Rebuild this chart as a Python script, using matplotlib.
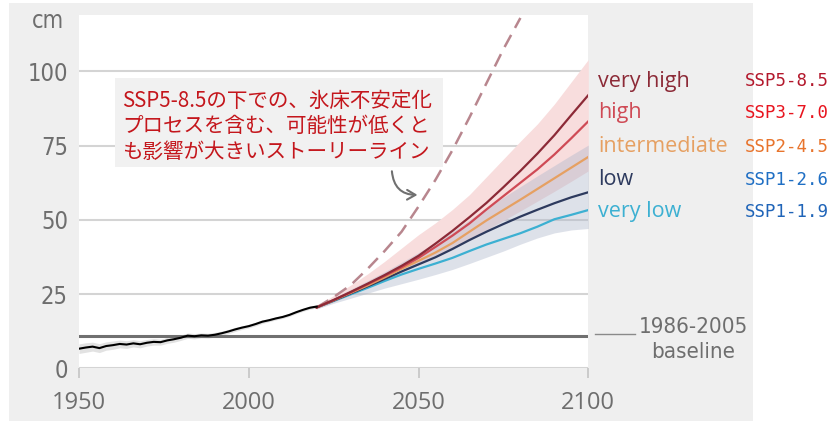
import matplotlib
matplotlib.use("Agg")
import matplotlib.pyplot as plt
from matplotlib.patches import Rectangle
from matplotlib import font_manager

W, H = 830, 423

# observed sea level (cm)
hist_years = [1950, 1952, 1954, 1956, 1958, 1960, 1962, 1964, 1966, 1968, 1970, 1972,
              1974, 1976, 1978, 1980, 1982, 1984, 1986, 1988, 1990, 1992, 1994, 1996,
              1998, 2000, 2002, 2004, 2006, 2008, 2010, 2012, 2014, 2016, 2018, 2020]
hist_vals = [6.6, 7.0, 7.3, 6.8, 7.5, 7.8, 8.2, 8.0, 8.4, 8.1, 8.6, 8.9,
             8.8, 9.4, 9.8, 10.3, 11.0, 10.8, 11.1, 11.0, 11.3, 11.8, 12.4, 13.1,
             13.7, 14.2, 14.9, 15.7, 16.2, 16.8, 17.3, 18.0, 18.9, 19.7, 20.4, 20.8]
hist_err = [1.6, 1.6, 1.5, 1.5, 1.4, 1.4, 1.3, 1.3, 1.2, 1.2, 1.1, 1.1,
            1.0, 1.0, 1.0, 0.9, 0.9, 0.9, 0.8, 0.8, 0.8, 0.7, 0.7, 0.7,
            0.6, 0.6, 0.6, 0.6, 0.5, 0.5, 0.5, 0.5, 0.5, 0.5, 0.5, 0.5]

# projections, 2020-2100
proj_years = [2020, 2025, 2030, 2035, 2040, 2045, 2050, 2055, 2060,
              2065, 2070, 2075, 2080, 2085, 2090, 2095, 2100]
very_high = [20.5, 23.0, 25.7, 28.5, 31.4, 34.5, 37.9, 42.0, 46.3, 50.9, 55.7, 61.0, 66.5, 72.3, 78.5, 85.3, 92.0]
high = [20.5, 23.0, 25.6, 28.3, 31.1, 34.0, 37.2, 40.9, 44.7, 48.8, 53.5, 58.0, 62.5, 67.0, 72.0, 77.5, 83.2]
intermediate = [20.5, 22.9, 25.4, 27.9, 30.6, 33.5, 36.2, 39.0, 42.2, 46.0, 49.8, 53.3, 56.8, 60.4, 64.0, 67.6, 71.2]
low = [20.5, 22.8, 25.2, 27.6, 30.1, 32.6, 35.0, 37.4, 40.2, 43.2, 46.0, 48.6, 51.1, 53.4, 55.6, 57.6, 59.3]
very_low = [20.5, 22.7, 24.9, 27.1, 29.4, 31.6, 33.5, 35.3, 37.2, 39.5, 41.7, 43.6, 45.5, 47.7, 50.2, 51.7, 53.3]

# likely ranges
vh_lo = [20.0, 22.3, 24.8, 27.3, 29.8, 32.3, 35.0, 37.8, 40.6, 43.6, 46.6, 49.8, 53.0, 56.3, 59.6, 63.0, 66.5]
vh_hi = [21.0, 24.5, 28.0, 31.8, 36.0, 40.5, 45.0, 49.0, 53.5, 58.5, 64.5, 70.5, 76.5, 82.3, 89.0, 96.5, 104.0]
vl_lo = [20.0, 21.9, 23.6, 25.3, 27.0, 28.5, 30.0, 31.6, 33.3, 35.3, 37.4, 39.5, 41.8, 43.9, 45.6, 46.6, 47.1]
vl_hi = [21.0, 23.8, 26.6, 29.5, 32.5, 35.7, 39.0, 42.4, 46.0, 50.0, 54.0, 57.6, 61.2, 64.8, 68.3, 71.8, 75.2]

# low-likelihood, high-impact storyline
story_years = [2020, 2025, 2030, 2035, 2040, 2045, 2050, 2055, 2060, 2065, 2070, 2075, 2080]
story_vals = [20.5, 24.0, 28.0, 33.5, 39.5, 46.0, 54.5, 63.5, 73.5, 84.5, 96.0, 107.5, 118.0]

baseline_level = 11.0

scen_names = ["very high", "high", "intermediate", "low", "very low"]
scen_codes = ["SSP5-8.5", "SSP3-7.0", "SSP2-4.5", "SSP1-2.6", "SSP1-1.9"]
scen_colors = ["#8c2a37", "#cf4a55", "#e6a062", "#2d3a5e", "#3cb0d2"]
code_colors = ["#b3182c", "#e8141e", "#e8742c", "#1f6fc4", "#1f64b8"]

note_lines = ["SSP5-8.5の下での、氷床不安定化",
              "プロセスを含む、可能性が低くと",
              "も影響が大きいストーリーライン"]

x_ticks = [1950, 2000, 2050, 2100]
y_ticks = [0, 25, 50, 75, 100]

GREY_TXT = "#6e6e6e"

# narrow face for the axis labels, if one is around
_names = {f.name for f in font_manager.fontManager.ttflist}
_cond = [f for f in font_manager.fontManager.ttflist
         if f.name == "DejaVu Sans" and "ondensed" in f.fname]
if "Liberation Sans Narrow" in _names:
    NARROW = dict(family="Liberation Sans Narrow")
elif _cond:
    NARROW = dict(family="DejaVu Sans", stretch="condensed")
else:
    NARROW = dict(family="Open Sans")


def fx(x):
    return x / W


def fy(y):
    return 1 - y / H


fig = plt.figure(figsize=(W / 100, H / 100), dpi=100)
fig.patch.set_facecolor("white")
fig.patches.append(Rectangle((fx(9), fy(421)), (753 - 9) / W, (421 - 3) / H,
                             transform=fig.transFigure, facecolor="#efefef",
                             edgecolor="none", zorder=-10))

ax = fig.add_axes([fx(79), fy(368.3), 509.3 / W, (368.3 - 15) / H])
ax.set_xlim(1950, 2100)
ax.set_ylim(0, 119)
ax.set_facecolor("white")
for s in ax.spines.values():
    s.set_visible(False)

ax.set_yticks(y_ticks)
ax.set_xticks(x_ticks)
ax.yaxis.grid(True, color="#d4d4d4", lw=1.5)
ax.set_axisbelow(True)
ax.tick_params(axis="y", length=0, pad=8, labelsize=17, labelcolor=GREY_TXT)
ax.tick_params(axis="x", length=7, width=1.3, color="#c8c8c8", pad=9,
               labelsize=17, labelcolor=GREY_TXT)
for lbl in ax.get_yticklabels():
    lbl.set(**NARROW)
for lbl in ax.get_xticklabels():
    lbl.set_fontfamily("Open Sans")

# note box sits over the grid
fig.patches.append(Rectangle((fx(115), fy(167)), (443 - 115) / W, (167 - 78) / H,
                             transform=fig.transFigure, facecolor="#f1f1f1",
                             edgecolor="none", zorder=0.5))

# ranges
ax.fill_between(proj_years, vh_lo, vh_hi, color="#f8dddd", lw=0, zorder=2)
ax.fill_between(proj_years, vl_lo, vl_hi, color="#b0b8cc", alpha=0.42, lw=0, zorder=2.1)
ax.fill_between(hist_years, [v - e for v, e in zip(hist_vals, hist_err)],
                [v + e for v, e in zip(hist_vals, hist_err)],
                color="#e2e2e2", lw=0, zorder=2)

ax.axhline(baseline_level, color="#707070", lw=2.2, zorder=3)

ax.plot(story_years, story_vals, color="#b8868e", lw=1.8, dashes=(5.5, 3.2), zorder=3)

for vals, c in zip([very_low, low, intermediate, high, very_high], scen_colors[::-1]):
    ax.plot(proj_years, vals, color=c, lw=1.6, zorder=4)

ax.plot(hist_years, hist_vals, color="black", lw=1.5, zorder=5)

ax.annotate("", xy=(2050.5, 58.4), xytext=(2042.1, 67.3),
            arrowprops=dict(arrowstyle="->,head_length=0.6,head_width=0.35",
                            connectionstyle="arc3,rad=0.5", color="#707070", lw=1.5),
            zorder=6)

for i, line in enumerate(note_lines):
    fig.text(fx(122), fy([100.5, 126, 151.5][i]), line, ha="left", va="center",
             fontsize=14.8, color="#c4161c", family=["Noto Sans CJK JP", "DejaVu Sans"])

fig.text(fx(64), fy(28), "cm", ha="right", va="baseline", fontsize=17,
         color=GREY_TXT, **NARROW)

baselines = [86.5, 118, 151.5, 185, 216.5]
for name, code, c, cc, b in zip(scen_names, scen_codes, scen_colors, code_colors, baselines):
    fig.text(fx(598), fy(b), name, ha="left", va="baseline", fontsize=15.5,
             color=c, family="Open Sans")
    fig.text(fx(745), fy(b), code, ha="left", va="baseline", fontsize=12.5,
             color=cc, family="DejaVu Sans Mono")

fig.add_artist(plt.Line2D([fx(595), fx(635)], [fy(334), fy(334)],
                          color="#8a8a8a", lw=1.0, transform=fig.transFigure))
fig.text(fx(693), fy(333), "1986-2005", ha="center", va="baseline", fontsize=16,
         color=GREY_TXT, **NARROW)
fig.text(fx(693), fy(358), "baseline", ha="center", va="baseline", fontsize=16,
         color=GREY_TXT, **NARROW)

fig.savefig("out.png", dpi=100, facecolor=fig.get_facecolor())
